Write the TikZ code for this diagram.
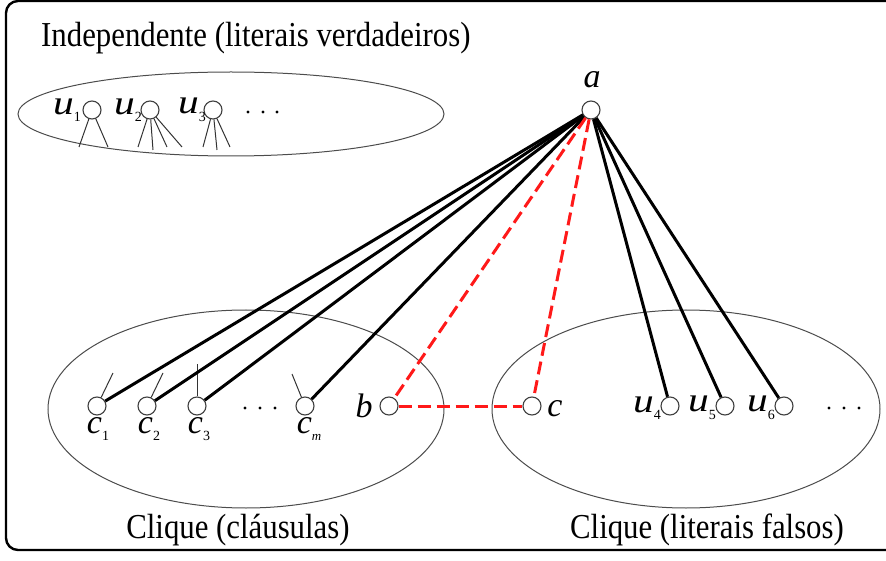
\documentclass[tikz,border=0pt]{standalone}
\usepackage{fontspec}
\setmainfont{Liberation Serif}
\newfontfamily\capfont[FakeStretch=0.88]{Liberation Serif}
\newcommand\uu{\scalebox{1.22}[1]{\textit{u}}}
\newcommand\vlab[2]{#1\raisebox{-0.22em}{\fontsize{14}{14}\selectfont #2}}
\begin{document}
\begin{tikzpicture}[x=1pt,y=-1pt,
  vtx/.style={circle,draw=black!75,line width=1.1pt,fill=white,minimum size=18pt,inner sep=0pt},
  labtxt/.style={inner sep=0pt,font=\fontsize{34}{34}\selectfont},
  captxt/.style={inner sep=0pt,font=\capfont\fontsize{35}{35}\selectfont},
  bedge/.style={line width=3pt,black},
  redge/.style={line width=3pt,red!90!white,dash pattern=on 13pt off 6pt},
  stubline/.style={line width=1pt,black!80},
  grp/.style={line width=1pt,black!70},
  ddot/.style={circle,fill=black,inner sep=0pt,minimum size=3.4pt}]
\useasboundingbox (0,0) rectangle (886,561);
\begin{scope}
\clip (0,0) rectangle (886,561);
\draw[line width=2.4pt,rounded corners=12pt] (6,1) rectangle (900,550);
\end{scope}
% group ellipses
\draw[grp] (231,114) ellipse [x radius=213, y radius=42];
\draw[grp] (246,409) ellipse [x radius=198, y radius=99];
\draw[grp] (686,409) ellipse [x radius=194, y radius=99];
% captions
\node[captxt,anchor=west] (tI) at (41,38) {Independente (literais verdadeiros)};
\node[captxt] (tC) at (238,530) {Clique (cláusulas)};
\node[captxt] (tL) at (707,530) {Clique (literais falsos)};
% top group
\node[vtx] (u1) at (92,110) {};
\node[vtx] (u2) at (150,110) {};
\node[vtx] (u3) at (213,110) {};
\node[labtxt] (lu1) at (67,110) {\vlab{\uu}{1}};
\node[labtxt] (lu2) at (128,110) {\vlab{\uu}{2}};
\node[labtxt] (lu3) at (192,110) {\vlab{\uu}{3}};
\coordinate (u1a) at (79,147); \coordinate (u1b) at (108,147);
\coordinate (u2a) at (138,147); \coordinate (u2b) at (153,150); \coordinate (u2c) at (167,147); \coordinate (u2d) at (182,147);
\coordinate (u3a) at (203,147); \coordinate (u3b) at (217,150); \coordinate (u3c) at (230,147);
\foreach \s/\t in {u1/u1a,u1/u1b,u2/u2a,u2/u2b,u2/u2c,u2/u2d,u3/u3a,u3/u3b,u3/u3c}
  \draw[stubline] (\s) -- (\t);
\node[ddot] (d1) at (248,112) {}; \node[ddot] (d2) at (263,112) {}; \node[ddot] (d3) at (277,112) {};
% a
\node[vtx] (a) at (591,110) {};
\node[labtxt] (la) at (592,80) {\textit{a}};
% clauses
\node[vtx] (c1) at (97,406) {};
\node[vtx] (c2) at (147,406) {};
\node[vtx] (c3) at (197,406) {};
\node[vtx] (cm) at (305,406) {};
\node[ddot] (d4) at (245,408) {}; \node[ddot] (d5) at (260,408) {}; \node[ddot] (d6) at (275,408) {};
\node[labtxt] (lc1) at (98,429) {\vlab{\textit{c}}{1}};
\node[labtxt] (lc2) at (149,429) {\vlab{\textit{c}}{2}};
\node[labtxt] (lc3) at (199,429) {\vlab{\textit{c}}{3}};
\node[labtxt] (lcm) at (309,429) {\textit{c}\raisebox{-0.22em}{\fontsize{13}{13}\selectfont\itshape m}};
\coordinate (c1t) at (113,373); \coordinate (c2t) at (163,373);
\coordinate (c3t) at (197,364); \coordinate (cmt) at (292,374);
\foreach \s/\t in {c1/c1t,c2/c2t,c3/c3t,cm/cmt}
  \draw[stubline] (\s) -- (\t);
\node[vtx] (b) at (389,406) {};
\node[labtxt] (lb) at (364,406) {\textit{b}};
% false literals
\node[vtx] (c) at (532,406) {};
\node[labtxt] (lc) at (555,409) {\textit{c}};
\node[vtx] (u4) at (670,406) {};
\node[vtx] (u5) at (725,406) {};
\node[vtx] (u6) at (784,406) {};
\node[labtxt] (lu4) at (647,408) {\vlab{\uu}{4}};
\node[labtxt] (lu5) at (702,408) {\vlab{\uu}{5}};
\node[labtxt] (lu6) at (761,408) {\vlab{\uu}{6}};
\node[ddot] (d7) at (829,408) {}; \node[ddot] (d8) at (844,408) {}; \node[ddot] (d9) at (859,408) {};
% edges
\foreach \t in {c1,c2,c3,cm,u4,u5,u6}
  \draw[bedge] (a) -- (\t);
\draw[redge] (a) -- (b);
\draw[redge] (a) -- (c);
\draw[redge] (b) -- (c);
\end{tikzpicture}
\end{document}
